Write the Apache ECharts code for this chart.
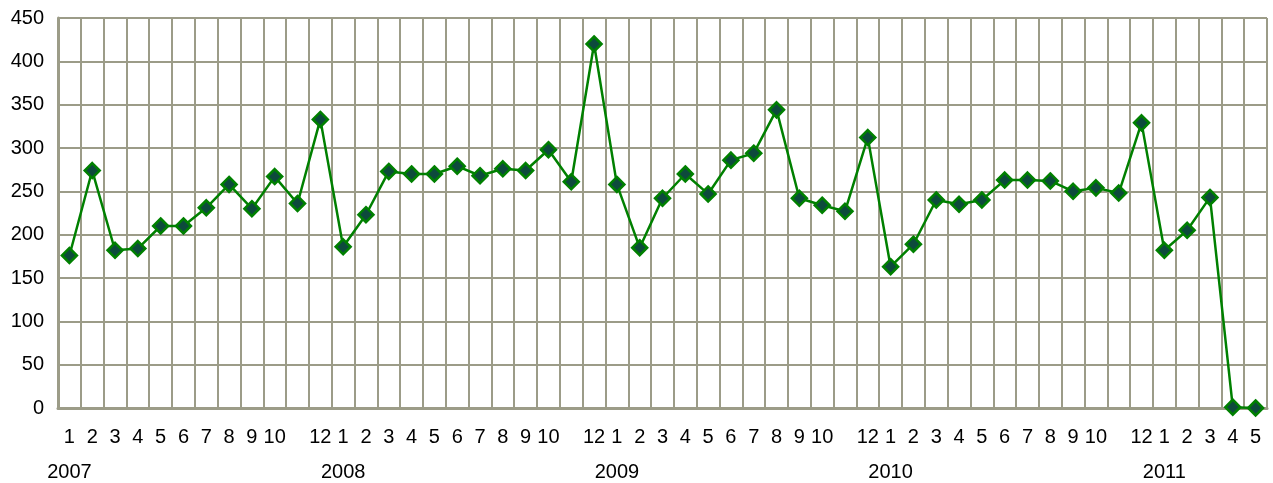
<!DOCTYPE html>
<html>
<head>
<meta charset="utf-8">
<script src="https://cdn.jsdelivr.net/npm/echarts@6/dist/echarts.min.js"></script>
<style>
  html, body { margin: 0; padding: 0; background: #fff; }
  #main { width: 1273px; height: 483px; }
</style>
</head>
<body>
<div id="main"></div>
<script>
// years and months shown on the x axis
var years = [2007, 2008, 2009, 2010, 2011];
var monthsPerYear = [12, 12, 12, 12, 5];
// monthly values, one array per year
var v2007 = [176, 274, 182, 184, 210, 210, 231, 258, 230, 267, 236, 333];
var v2008 = [186, 223, 273, 270, 270, 279, 268, 276, 274, 298, 261, 420];
var v2009 = [258, 185, 242, 270, 247, 286, 294, 344, 242, 234, 227, 312];
var v2010 = [163, 189, 240, 235, 240, 263, 263, 262, 250, 254, 248, 329];
var v2011 = [182, 205, 243, 1, 0];
// y axis ticks
var yMin = 0, yMax = 450, yStep = 50;

var categories = [];
var monthOf = [];
var yearOf = [];
years.forEach(function (y, i) {
  for (var m = 1; m <= monthsPerYear[i]; m++) {
    categories.push(y + '-' + m);
    monthOf.push(m);
    yearOf.push(y);
  }
});
var values = [].concat(v2007, v2008, v2009, v2010, v2011);

var gridColor = '#9c9c88';
var font = 'Liberation Sans, Arial, sans-serif';

var myChart = echarts.init(document.getElementById('main'));
var option = {
  animation: false,
  backgroundColor: '#fff',
  grid: { left: 58, right: 6, top: 18, bottom: 75, containLabel: false },
  xAxis: [{
    type: 'category',
    data: categories,
    boundaryGap: true,
    axisLine: { show: true, lineStyle: { color: gridColor, width: 3 } },
    axisTick: { show: false },
    splitLine: { show: true, interval: 0, lineStyle: { color: gridColor, width: 2 } },
    axisLabel: {
      interval: 0,
      margin: 19,
      color: '#000',
      fontSize: 20,
      fontFamily: font,
      formatter: function (val, idx) {
        var m = monthOf[idx];
        return m === 11 ? '' : String(m);
      }
    }
  }, {
    type: 'category',
    data: categories,
    position: 'bottom',
    offset: 35,
    boundaryGap: true,
    axisLine: { show: false },
    axisTick: { show: false },
    splitLine: { show: false },
    axisLabel: {
      interval: 0,
      margin: 19,
      color: '#000',
      fontSize: 20,
      fontFamily: font,
      formatter: function (val, idx) {
        return monthOf[idx] === 1 ? String(yearOf[idx]) : '';
      }
    }
  }],
  yAxis: {
    type: 'value',
    min: yMin,
    max: yMax,
    interval: yStep,
    axisLine: { show: true, lineStyle: { color: gridColor, width: 3 } },
    axisTick: { show: false },
    splitLine: { show: true, lineStyle: { color: gridColor, width: 2 } },
    axisLabel: {
      margin: 14,
      color: '#000',
      fontSize: 20,
      fontFamily: font
    }
  },
  series: [{
    type: 'line',
    data: values,
    xAxisIndex: 0,
    symbol: 'diamond',
    symbolSize: 15,
    showAllSymbol: true,
    lineStyle: { color: '#008000', width: 2.5 },
    itemStyle: { color: '#0d4a3c', borderColor: '#008000', borderWidth: 2.5 },
    z: 5
  }]
};
myChart.setOption(option);
</script>
</body>
</html>
